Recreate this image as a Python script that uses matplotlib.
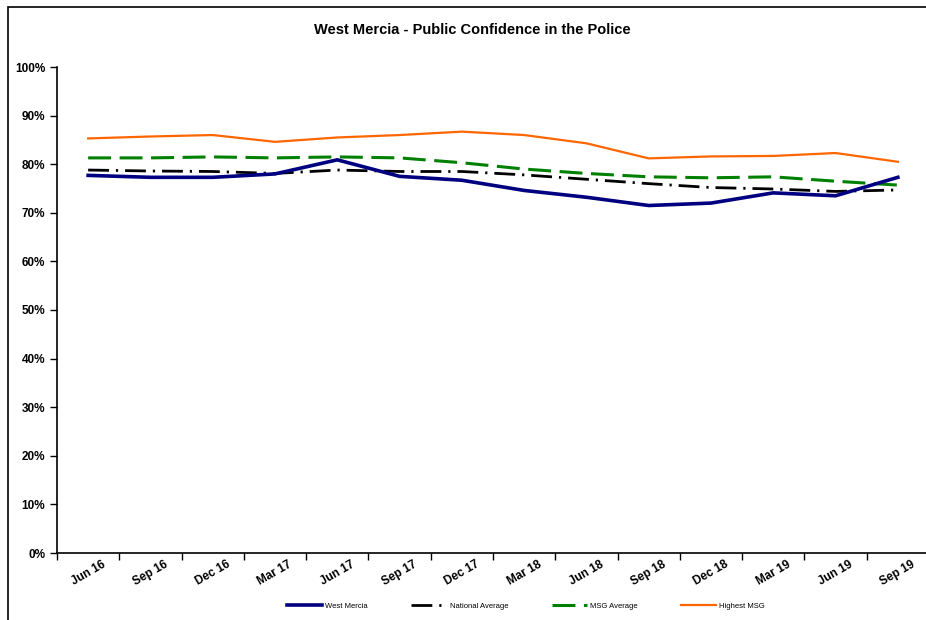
import matplotlib
matplotlib.use("Agg")
import matplotlib.pyplot as plt
from matplotlib.patches import Rectangle
from matplotlib.ticker import FuncFormatter

categories = ["Jun 16", "Sep 16", "Dec 16", "Mar 17", "Jun 17", "Sep 17", "Dec 17",
              "Mar 18", "Jun 18", "Sep 18", "Dec 18", "Mar 19", "Jun 19", "Sep 19"]
west_mercia = [77.7, 77.3, 77.3, 78.0, 80.9, 77.5, 76.7, 74.6, 73.2, 71.5, 72.0, 74.1, 73.5, 77.3]
national_avg = [78.8, 78.6, 78.5, 78.1, 78.8, 78.5, 78.5, 77.8, 76.9, 76.0, 75.2, 74.9, 74.4, 74.7]
msg_avg = [81.3, 81.3, 81.5, 81.3, 81.5, 81.3, 80.3, 79.0, 78.1, 77.4, 77.2, 77.4, 76.5, 75.7]
highest_msg = [85.3, 85.7, 86.0, 84.6, 85.5, 86.0, 86.7, 86.0, 84.3, 81.2, 81.6, 81.7, 82.3, 80.5]

plt.rcParams['font.family'] = ['Liberation Sans', 'DejaVu Sans']

fig = plt.figure(figsize=(9.26, 6.2), dpi=100)
fig.patches.append(Rectangle((8 / 926, -0.1), 1.2, (620 - 7) / 620 + 0.1, transform=fig.transFigure,
                             fill=False, edgecolor='black', linewidth=1.2, zorder=0))

ax = fig.add_axes([57 / 926, 67 / 620, 872 / 926, 486 / 620])
x = list(range(len(categories)))

ax.plot(x, west_mercia, color='#000080', linewidth=2.6, label='West Mercia', zorder=5)
ax.plot(x, national_avg, color='black', linewidth=2.0, linestyle=(0, (7.5, 2.5, 0.8, 2.5)), label='National Average', zorder=4)
ax.plot(x, msg_avg, color='#008000', linewidth=2.2, linestyle=(0, (7.5, 2.8)), label='MSG Average', zorder=3)
ax.plot(x, highest_msg, color='#FF6600', linewidth=1.6, label='Highest MSG', zorder=2)

ax.set_xlim(-0.5, len(categories) - 0.5)
ax.set_ylim(0, 100)
ax.set_yticks(range(0, 101, 10))
ax.yaxis.set_major_formatter(FuncFormatter(lambda v, p: f"{int(v)}%"))
ax.set_xticks([i - 0.5 for i in x])
ax.set_xticklabels([])
ax.set_xticks(x, minor=True)
ax.set_xticklabels(categories, minor=True, rotation=30, ha='center', fontsize=8.5, fontweight='bold')
ax.tick_params(axis='x', which='minor', length=0, pad=4)
ax.tick_params(axis='x', which='major', length=5, direction='out', width=1)
ax.tick_params(axis='y', length=5, direction='out', width=1, labelsize=8.5)
for lbl in ax.get_yticklabels():
    lbl.set_fontweight('bold')

for s in ['top', 'right']:
    ax.spines[s].set_visible(False)
for s in ['left', 'bottom']:
    ax.spines[s].set_linewidth(1.2)

fig.text(472 / 926, 1 - 30 / 620, "West Mercia - Public Confidence in the Police",
         ha='center', va='center', fontsize=10.5, fontweight='bold')

handles, labels = ax.get_legend_handles_labels()
fig.legend(handles, labels, loc='center', bbox_to_anchor=(526 / 926, 1 - 606 / 620), ncol=4,
           frameon=False, fontsize=5.5, handlelength=4.6, columnspacing=5.7, handletextpad=0.4)

fig.savefig("out.png", dpi=100)
